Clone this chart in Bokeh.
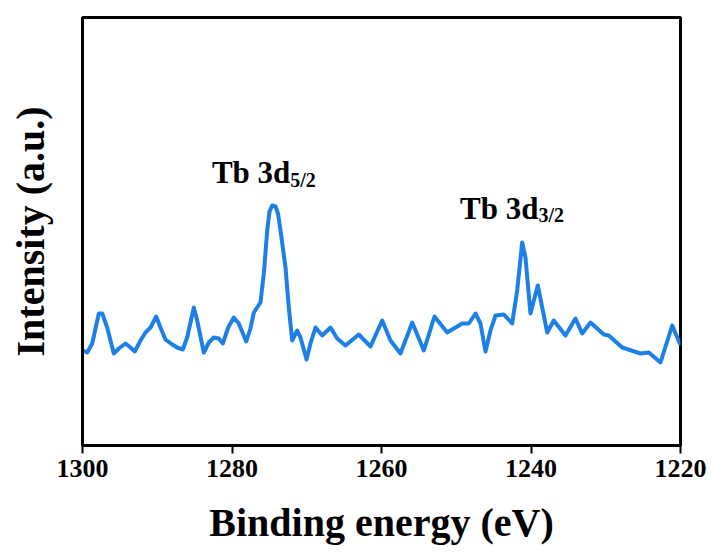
from bokeh.plotting import figure
from bokeh.models import Range1d, FixedTicker, ColumnDataSource
from bokeh.core.properties import value
from bokeh.embed import file_html
from bokeh.resources import INLINE

# Binding energy (eV) and intensity (a.u.)
energy = [1299.96, 1299.37, 1298.70, 1297.82, 1297.36, 1296.70, 1295.81, 1295.14, 1294.25, 1293.58,
          1293.00, 1292.24, 1291.57, 1290.90, 1290.14, 1289.57, 1288.90, 1288.00, 1287.33, 1286.58,
          1286.00, 1285.11, 1284.66, 1283.77, 1283.10, 1282.43, 1281.77, 1281.23, 1280.51, 1279.76,
          1279.09, 1278.10, 1277.53, 1277.08, 1276.19, 1275.74, 1275.29, 1274.98, 1274.62, 1274.18,
          1273.85, 1273.51,
          1272.84, 1272.40, 1271.95, 1271.28, 1270.84, 1270.03, 1269.50, 1268.83, 1267.93, 1266.82,
          1265.93, 1264.82, 1263.04, 1261.47, 1259.91, 1258.80, 1257.46, 1255.89, 1254.34, 1252.91,
          1251.21, 1249.20, 1248.32, 1247.42, 1246.76, 1246.09, 1245.42, 1244.75, 1243.64, 1242.52,
          1241.85, 1241.18, 1240.74, 1240.07, 1239.09, 1238.50, 1237.83, 1236.95, 1235.39, 1234.05,
          1233.15, 1232.04, 1230.26, 1229.59, 1227.80, 1225.35, 1224.24, 1222.68, 1221.11, 1220.09]
intensity = [95, 93, 102, 132, 132, 118, 92, 97, 102, 98,
             94, 105, 113, 118, 129, 118, 106, 101, 98, 96,
             108, 138, 125, 93, 103, 108, 107, 102, 118, 128,
             122, 104, 117, 133, 143, 172, 215, 234, 240, 239,
             232, 215,
             178, 138, 105, 115, 108, 86, 102, 118, 110, 118,
             107, 100, 111, 99, 125, 105, 92, 123, 95, 129,
             113, 122, 122, 132, 122, 94, 115, 130, 131, 122,
             155, 203, 188, 132, 160, 138, 113, 125, 110, 127,
             112, 123, 111, 110, 98, 92, 93, 83, 120, 102]

x_ticks = [1300, 1280, 1260, 1240, 1220]

# Peak labels: main text and subscript, anchored where they meet
label_main = ["Tb 3d", "Tb 3d"]
label_sub = ["5/2", "3/2"]
label_x = [1272.2, 1239.0]
label_y = [273, 237]
label_sub_y = [266, 231]

FONT = "Liberation Serif"

p = figure(width=712, height=556, output_backend="svg", toolbar_location=None,
           x_range=Range1d(1300, 1220), y_range=Range1d(0, 428),
           min_border_left=82, min_border_right=32, min_border_top=17, min_border_bottom=111)

p.line(energy, intensity, line_color="#1c80e8", line_width=4, line_join="round", line_cap="round")

src_main = ColumnDataSource(dict(x=label_x, y=label_y, t=label_main))
src_sub = ColumnDataSource(dict(x=label_x, y=label_sub_y, t=label_sub))
p.text(x="x", y="y", text="t", source=src_main, text_font=value(FONT), text_font_style="bold",
       text_font_size="31px", text_align="right", text_baseline="alphabetic", text_color="black")
p.text(x="x", y="y", text="t", source=src_sub, text_font=value(FONT), text_font_style="bold",
       text_font_size="20px", text_align="left", text_baseline="alphabetic", text_color="black")

p.grid.visible = False
p.outline_line_color = "black"
p.outline_line_width = 3
p.outline_line_alpha = 1

xa = p.xaxis[0]
xa.ticker = FixedTicker(ticks=x_ticks)
xa.minor_tick_line_color = None
xa.major_tick_in = 0
xa.major_tick_out = 8
xa.major_tick_line_width = 2
xa.major_tick_line_color = "black"
xa.axis_line_width = 3
xa.axis_line_color = "black"
xa.major_label_text_font = FONT
xa.major_label_text_font_style = "bold"
xa.major_label_text_font_size = "26px"
xa.major_label_text_color = "black"
xa.major_label_standoff = 6
xa.axis_label = "Binding energy (eV)"
xa.axis_label_text_font = FONT
xa.axis_label_text_font_style = "bold"
xa.axis_label_text_font_size = "40px"
xa.axis_label_text_color = "black"
xa.axis_label_standoff = 20

ya = p.yaxis[0]
ya.ticker = FixedTicker(ticks=[])
ya.minor_tick_line_color = None
ya.major_tick_line_color = None
ya.major_label_text_font_size = "0px"
ya.axis_line_width = 3
ya.axis_line_color = "black"
ya.axis_label = "Intensity (a.u.)"
ya.axis_label_text_font = FONT
ya.axis_label_text_font_style = "bold"
ya.axis_label_text_font_size = "40px"
ya.axis_label_text_color = "black"
ya.axis_label_standoff = 30

open("out.html", "w").write(file_html(p, INLINE))
